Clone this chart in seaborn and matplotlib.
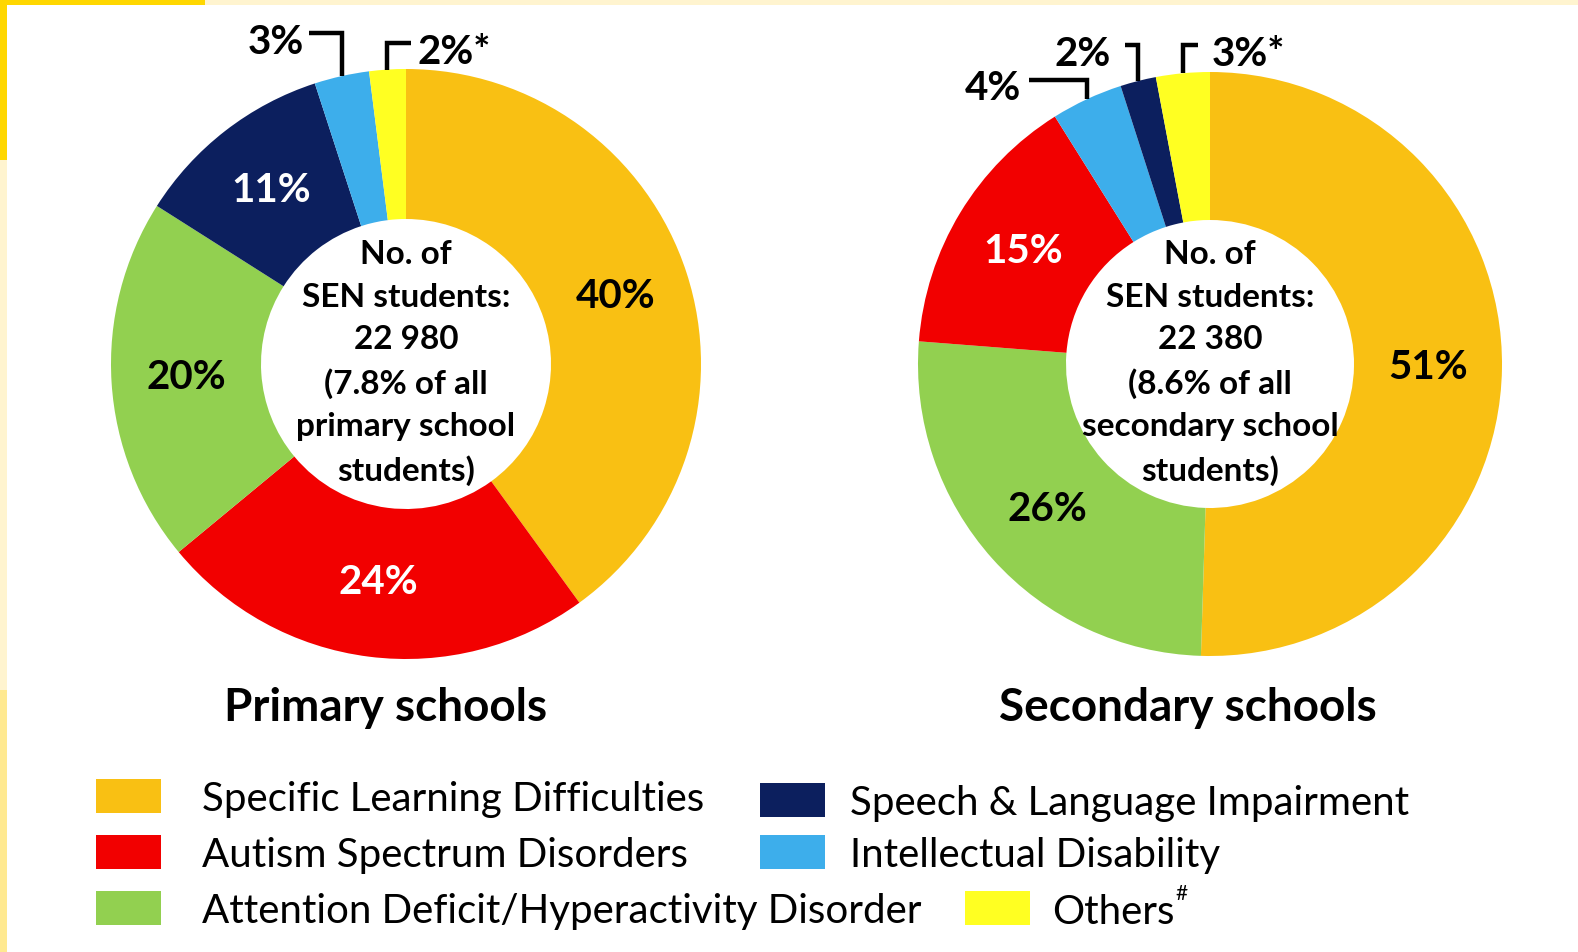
import matplotlib
matplotlib.use("Agg")
import matplotlib.pyplot as plt
from matplotlib.patches import Rectangle
import numpy as np
import seaborn as sns

# ---- data -------------------------------------------------------------
categories = ["Specific Learning Difficulties", "Autism Spectrum Disorders",
              "Attention Deficit/Hyperactivity Disorder", "Speech & Language Impairment",
              "Intellectual Disability", "Others"]
palette = ["#F9C013", "#F20000", "#92D050", "#0C1F5E", "#3DAEEB", "#FFFF22"]

# slices listed clockwise from 12 o'clock (index into categories)
primary_order = [0, 1, 2, 3, 4, 5]
primary_pct = [40, 24, 20, 11, 3, 2]
primary_labels = ["40%", "24%", "20%", "11%", "3%", "2%*"]
primary_centre = "No. of\nSEN students:\n22 980\n(7.8% of all\nprimary school\nstudents)"

secondary_order = [0, 2, 1, 4, 3, 5]
secondary_pct = [51, 26, 15, 4, 2, 3]
secondary_labels = ["51%", "26%", "15%", "4%", "2%", "3%*"]
secondary_centre = "No. of\nSEN students:\n22 380\n(8.6% of all\nsecondary school\nstudents)"

titles = ["Primary schools", "Secondary schools"]

# ---- styling ------------------------------------------------------------
sns.set_theme(style="white")
FONT = ["Lato", "DejaVu Sans"]
plt.rcParams["font.family"] = FONT

W, H = 1578, 952
fig = plt.figure(figsize=(W / 100, H / 100), dpi=100)
ax = fig.add_axes([0, 0, 1, 1])


def Y(py):
    return H - py


def donut(ax, order, pct, labels, centre_txt, cx, cy, R, r, leaders, dark_text):
    colors = [palette[i] for i in order]
    wedges, _ = ax.pie(pct, colors=colors, startangle=90, counterclock=False,
                       radius=R, center=(cx, Y(cy)),
                       wedgeprops=dict(width=R - r, edgecolor="none"))
    for k, w in enumerate(wedges):
        mid = np.deg2rad((w.theta1 + w.theta2) / 2)
        if k in leaders:
            top, side, hlen, gap = leaders[k]
            ax0 = cx + R * np.cos(mid)
            ay0 = Y(cy) + R * np.sin(mid)
            hx = ax0 + side * hlen
            ax.plot([ax0, ax0, hx], [ay0, Y(top), Y(top)], color="black",
                    lw=3.2, solid_joinstyle="miter", solid_capstyle="butt")
            ax.text(hx + side * gap, Y(top + 9), labels[k],
                    ha="left" if side > 0 else "right", va="center",
                    fontsize=29, fontweight="bold", color="black")
        else:
            rm = (R + r) / 2
            ax.text(cx + rm * np.cos(mid), Y(cy) + rm * np.sin(mid), labels[k],
                    ha="center", va="center", fontsize=29, fontweight="bold",
                    color="black" if order[k] in dark_text else "white")
    ax.text(cx, Y(cy - 1), centre_txt, ha="center", va="center", fontsize=24,
            fontweight="bold", color="black", linespacing=1.55)


donut(ax, primary_order, primary_pct, primary_labels, primary_centre,
      406, 364, 295, 145,
      leaders={4: (33, -1, 33, 5), 5: (43, 1, 24, 6)},
      dark_text={0, 2, 5})
donut(ax, secondary_order, secondary_pct, secondary_labels, secondary_centre,
      1210, 364, 292, 144,
      leaders={3: (80, -1, 58, 8), 4: (45, -1, 13, 14), 5: (45, 1, 15, 14)},
      dark_text={0, 2, 5})

ax.text(386, Y(708), titles[0], ha="center", va="center", fontsize=33,
        fontweight="bold", color="black")
ax.text(1188, Y(708), titles[1], ha="center", va="center", fontsize=33,
        fontweight="bold", color="black")

# ---- legend (drawn by hand to keep the uneven grid) --------------------
legend_slots = [(96, 796, 106), (96, 852, 106), (96, 908, 106),
                (760, 800, 90), (760, 852, 90), (965, 908, 87)]
for (lx, ly, tx), name, col in zip(legend_slots, categories, palette):
    ax.add_patch(Rectangle((lx, Y(ly + 17)), 65, 34, color=col, lw=0))
    t = ax.text(lx + tx, Y(ly + 4 if lx < 900 or ly < 900 else ly + 4), name,
                ha="left", va="center", fontsize=29, color="black")
ax.annotate("#", xy=(1, 1), xycoords=t, xytext=(1, 7), textcoords="offset points",
            ha="left", va="top", fontsize=15, color="black")

# ---- screenshot frame --------------------------------------------------
ax.add_patch(Rectangle((0, Y(5)), W, 5, color="#FFF4CF", lw=0, zorder=-1))
ax.add_patch(Rectangle((0, 0), 7, H, color="#FFF4CF", lw=0, zorder=-1))
ax.add_patch(Rectangle((0, 0), 7, Y(690), color="#FFE990", lw=0, zorder=-1))
ax.add_patch(Rectangle((0, Y(5)), 205, 5, color="#FFD700", lw=0, zorder=-1))
ax.add_patch(Rectangle((0, Y(160)), 7, 160, color="#FFD700", lw=0, zorder=-1))

ax.set_xlim(0, W)
ax.set_ylim(0, H)
ax.set_aspect("equal")
ax.axis("off")

fig.savefig("out.png", dpi=100, facecolor="white")
